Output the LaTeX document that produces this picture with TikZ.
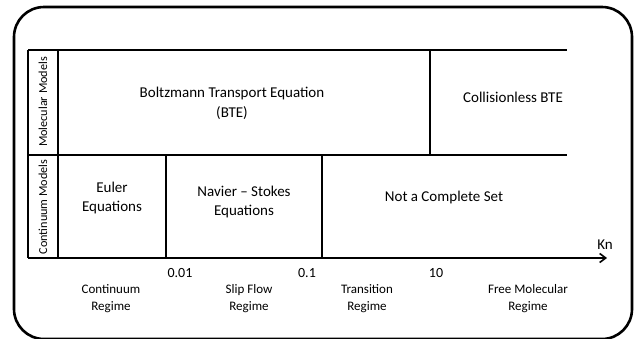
\documentclass[tikz,border=0pt]{standalone}
\usepackage{fontspec}
\setmainfont{Carlito}
\usetikzlibrary{arrows.meta}
\begin{document}
\begin{tikzpicture}[x=1pt,y=-1pt,
  frame/.style={line width=2.6pt, rounded corners=30pt},
  rule/.style={line width=1.4pt},
  big/.style={font=\fontsize{15}{19}\selectfont, align=center, inner sep=0pt},
  side/.style={font=\fontsize{12.2}{14}\selectfont, rotate=90, inner sep=0pt},
  tick/.style={font=\fontsize{14}{16}\selectfont, inner sep=0pt},
  regime/.style={font=\fontsize{13}{17}\selectfont, align=center, inner sep=0pt}]
\useasboundingbox (0,0) rectangle (636,338);
\draw[frame] (14,7) rectangle (632,339);
% grid coordinates
\coordinate (tl) at (28,50);
\coordinate (tr) at (567,50);
\coordinate (ml) at (28,155);
\coordinate (mr) at (567,155);
\coordinate (bl) at (28,258);
\coordinate (ax) at (607,258);
\coordinate (c1t) at (58,50);
\coordinate (c1b) at (58,258);
\coordinate (v1t) at (430,50);
\coordinate (v1b) at (430,155);
\coordinate (v2t) at (166,155);
\coordinate (v2b) at (166,258);
\coordinate (v3t) at (322,155);
\coordinate (v3b) at (322,258);
\draw[rule] (tl) -- (tr);
\draw[rule] (ml) -- (mr);
\draw[rule] (tl) -- (bl);
\draw[rule] (c1t) -- (c1b);
\draw[rule] (v1t) -- (v1b);
\draw[rule] (v2t) -- (v2b);
\draw[rule] (v3t) -- (v3b);
\draw[rule, -{Straight Barb[length=6pt,width=9pt,line width=1.6pt]}] (bl) -- (ax);
% labels
\node[side] (mm) at (43,102) {Molecular Models};
\node[side] (cm) at (43,207) {Continuum Models};
\node[font=\fontsize{15}{20}\selectfont, align=center, inner sep=0pt] (bte) at (232,103) {Boltzmann Transport Equation\\(BTE)};
\node[big] (cbte) at (513,97) {Collisionless BTE};
\node[big] (eu) at (112,198) {Euler\\Equations};
\node[big] (ns) at (244,202) {Navier -- Stokes\\Equations};
\node[big] (nc) at (444,197) {Not a Complete Set};
\node[big] (kn) at (605,245) {Kn};
\node[tick] (t1) at (180,273) {0.01};
\node[tick] (t2) at (307,273) {0.1};
\node[tick] (t3) at (436,273) {10};
\node[regime] (r1) at (111,299) {Continuum\\Regime};
\node[regime] (r2) at (249,299) {Slip Flow\\Regime};
\node[regime] (r3) at (367,299) {Transition\\Regime};
\node[regime] (r4) at (528,299) {Free Molecular\\Regime};
\end{tikzpicture}
\end{document}
